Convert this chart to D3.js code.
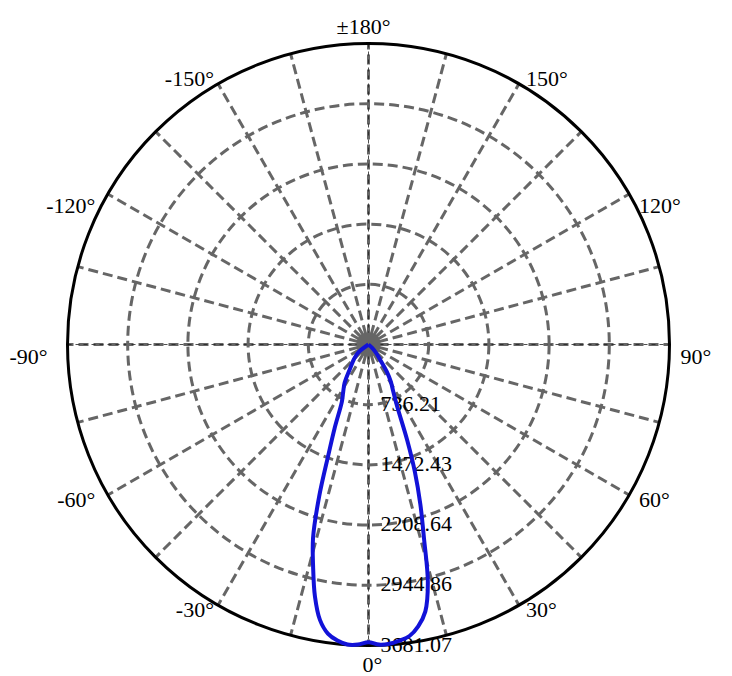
<!DOCTYPE html>
<html>
<head>
<meta charset="utf-8">
<script src="https://cdn.jsdelivr.net/npm/d3@7"></script>
<style>
  body { margin: 0; background: #fff; }
  text { font-family: "Liberation Serif", "Times New Roman", serif; }
</style>
</head>
<body>
<div id="chart-area"></div>
<script>
const WIDTH = 732
const HEIGHT = 676
const CX = 368.5
const CY = 344.5
const RADIUS = 301

// intensity curve (angle in degrees, 0 = down, positive to the right)
const angles = [-90, -60, -52, -45, -38, -32, -28, -25, -22, -20, -18, -16, -14, -12, -10, -8, -6, -4, -2, 0,
  2, 4, 6, 8, 10, 12, 14, 16, 18, 20, 22, 25, 28, 31, 34, 37, 42, 48, 55, 90]
const intensity = [0, 0, 160, 250, 360, 550, 660, 770, 1110, 1430, 1950, 2460, 2800, 3150, 3420, 3570, 3640, 3678, 3672, 3641,
  3672, 3668, 3640, 3600, 3500, 3340, 3000, 2460, 2050, 1660, 1266, 820, 640, 530, 400, 245, 140, 60, 0, 0]

// grid
const ringValues = [736.21, 1472.43, 2208.64, 2944.86, 3681.07]
const ringLabels = ["736.21", "1472.43", "2208.64", "2944.86", "3681.07"]
const spokeAngles = d3.range(-180, 180, 15)
const angleTicks = [180, 150, 120, 90, 60, 30, 0, -30, -60, -90, -120, -150]
const angleTickLabels = ["±180°", "150°", "120°", "90°", "60°", "30°", "0°", "-30°", "-60°", "-90°", "-120°", "-150°"]

const svg = d3.select("#chart-area").append("svg")
  .attr("width", WIDTH)
  .attr("height", HEIGHT)

const g = svg.append("g")
  .attr("transform", `translate(${CX}, ${CY})`)

const r = d3.scaleLinear().domain([0, 3681.07]).range([0, RADIUS])
// screen angle, clockwise from top (d3 convention)
const toRad = deg => Math.PI - deg * Math.PI / 180

// spokes
g.selectAll(".spoke").data(spokeAngles).enter().append("line")
  .attr("class", "spoke")
  .attr("x1", d => 10 * Math.sin(toRad(d)))
  .attr("y1", d => -10 * Math.cos(toRad(d)))
  .attr("x2", d => RADIUS * Math.sin(toRad(d)))
  .attr("y2", d => -RADIUS * Math.cos(toRad(d)))
  .attr("stroke", "#666")
  .attr("stroke-width", 3)
  .attr("stroke-dasharray", "10,5")

// thin black dashes on main axes
g.selectAll(".axisline").data([0, 90]).enter().append("line")
  .attr("class", "axisline")
  .attr("x1", d => -RADIUS * Math.sin(toRad(d)))
  .attr("y1", d => RADIUS * Math.cos(toRad(d)))
  .attr("x2", d => RADIUS * Math.sin(toRad(d)))
  .attr("y2", d => -RADIUS * Math.cos(toRad(d)))
  .attr("stroke", "#222")
  .attr("stroke-width", 0.8)
  .attr("stroke-dasharray", "4,4")

// rings
g.selectAll(".ring").data(ringValues.slice(0, -1)).enter().append("circle")
  .attr("class", "ring")
  .attr("r", d => r(d))
  .attr("fill", "none")
  .attr("stroke", "#666")
  .attr("stroke-width", 3)
  .attr("stroke-dasharray", "10,5")

// centre disk
g.append("circle")
  .attr("r", 12)
  .attr("fill", "#666")

// outer circle
g.append("circle")
  .attr("r", r(ringValues[ringValues.length - 1]))
  .attr("fill", "none")
  .attr("stroke", "#000")
  .attr("stroke-width", 3)

// ring labels
g.selectAll(".rlabel").data(ringValues).enter().append("text")
  .attr("class", "rlabel")
  .attr("x", 12)
  .attr("y", d => r(d) + 6)
  .attr("font-size", 22)
  .attr("fill", "#000")
  .text((d, i) => ringLabels[i])

// angle labels
g.selectAll(".alabel").data(angleTicks).enter().append("text")
  .attr("class", "alabel")
  .attr("font-size", 22)
  .attr("fill", "#000")
  .each(function(d, i) {
    const a = toRad(d)
    const s = Math.sin(a), c = Math.cos(a)
    let anchor = "middle", dx = 0, dy
    if (s > 0.1) { anchor = "start"; dx = 3 + 8 * Math.abs(s) }
    else if (s < -0.1) { anchor = "end"; dx = -(3 + 17 * Math.pow(Math.abs(s), 4)) }
    if (Math.abs(s) < 0.1) dy = c > 0 ? -10 : 26
    else if (c > 0.7) dy = 2
    else if (c > -0.1) dy = 19
    else dy = 12
    d3.select(this)
      .attr("x", RADIUS * s + dx + (Math.abs(s) < 0.1 ? (c > 0 ? -5 : 4) : 0))
      .attr("y", -RADIUS * c + dy)
      .attr("text-anchor", anchor)
      .text(angleTickLabels[i])
  })

// intensity curve
const data = angles.map((a, i) => ({ a: a, v: intensity[i] }))
const line = d3.lineRadial()
  .angle(d => toRad(d.a))
  .radius(d => r(d.v))
  .curve(d3.curveCatmullRom)

g.append("path")
  .attr("d", line(data))
  .attr("fill", "none")
  .attr("stroke", "#1212d8")
  .attr("stroke-width", 4)
  .attr("stroke-linejoin", "round")
</script>
</body>
</html>
